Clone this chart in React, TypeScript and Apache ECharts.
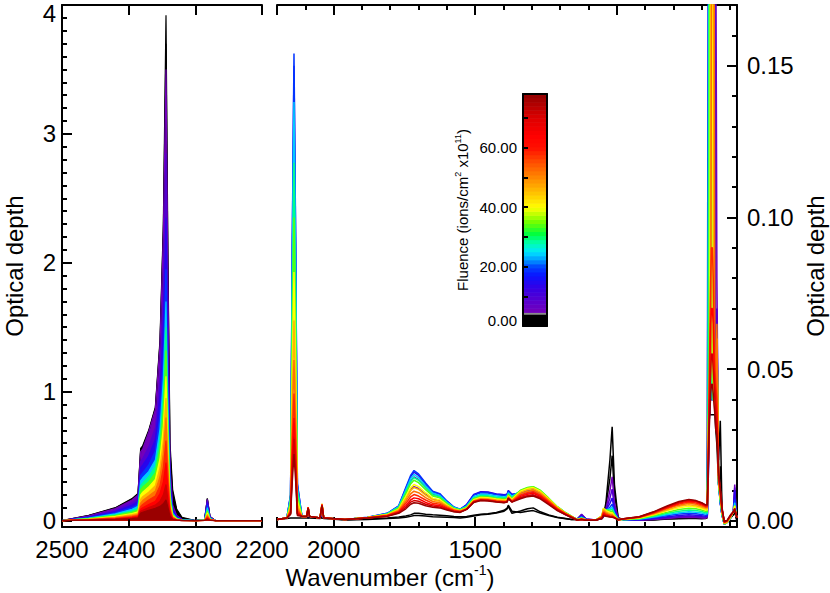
import React, { useEffect, useRef } from 'react';
import * as echarts from 'echarts';

// ---------------- DATA ----------------
// Fluence (x10^11 ions/cm^2) of each plotted spectrum
const FLUENCE = [0, 2, 5, 9, 14, 19, 24, 29, 34, 40, 46, 52, 58, 64, 71, 77];

// Left panel: wavenumbers (cm^-1)
const WN_LEFT = [2500, 2460, 2420, 2395, 2386, 2382, 2379, 2370, 2360, 2353, 2348, 2344, 2341, 2338, 2334, 2328, 2320, 2300, 2286, 2282, 2278, 2270, 2240, 2200];

// Left panel optical depths, one array per spectrum
const OD_LEFT_00 = [0, .04, .1, .17, .21, .56, .58, .7, .88, 1.4, 2.3, 3.92, 2.0, .6, .24, .09, .025, 0, .01, .17, .03, 0, 0, 0];
const OD_LEFT_01 = [0, .039, .097, .167, .206, .55, .57, .69, .87, 1.38, 2.25, 3.7, 1.9, .55, .2, .08, .02, 0, .01, .17, .03, 0, 0, 0];
const OD_LEFT_02 = [0, .037, .093, .16, .198, .535, .555, .685, .86, 1.36, 2.2, 3.5, 1.75, .42, .12, .04, .01, 0, .01, .165, .03, 0, 0, 0];
const OD_LEFT_03 = [0, .03, .08, .14, .17, .46, .48, .57, .72, 1.12, 1.78, 2.85, 1.43, .36, .1, .035, .008, 0, .008, .155, .025, 0, 0, 0];
const OD_LEFT_04 = [0, .027, .07, .12, .15, .41, .43, .5, .63, .98, 1.52, 2.35, 1.18, .3, .085, .03, .006, 0, .007, .14, .022, 0, 0, 0];
const OD_LEFT_05 = [0, .023, .06, .1, .125, .35, .37, .43, .54, .82, 1.27, 1.95, .98, .25, .065, .022, .005, 0, .006, .12, .02, 0, 0, 0];
const OD_LEFT_06 = [0, .02, .052, .088, .11, .31, .33, .38, .47, .71, 1.1, 1.7, .85, .22, .057, .019, .004, 0, .005, .1, .017, 0, 0, 0];
const OD_LEFT_07 = [0, .017, .045, .076, .095, .27, .29, .34, .42, .63, .97, 1.5, .75, .19, .05, .016, .003, 0, .004, .085, .014, 0, 0, 0];
const OD_LEFT_08 = [0, .015, .039, .066, .082, .24, .26, .3, .37, .56, .86, 1.32, .66, .17, .045, .014, .003, 0, .003, .072, .012, 0, 0, 0];
const OD_LEFT_09 = [0, .012, .032, .055, .068, .2, .22, .26, .32, .48, .73, 1.12, .56, .14, .038, .012, .002, 0, .003, .06, .01, 0, 0, 0];
const OD_LEFT_10 = [0, .01, .027, .046, .057, .165, .185, .22, .27, .41, .62, .95, .48, .12, .032, .01, .002, 0, .002, .048, .008, 0, 0, 0];
const OD_LEFT_11 = [0, .008, .022, .038, .047, .135, .155, .19, .23, .34, .52, .8, .4, .1, .027, .008, .001, 0, .002, .038, .007, 0, 0, 0];
const OD_LEFT_12 = [0, .007, .018, .03, .038, .11, .125, .16, .19, .27, .41, .62, .32, .08, .021, .006, .001, 0, .001, .028, .005, 0, 0, 0];
const OD_LEFT_13 = [0, .006, .014, .024, .031, .088, .1, .125, .15, .21, .3, .45, .23, .06, .016, .005, .001, 0, .001, .02, .004, 0, 0, 0];
const OD_LEFT_14 = [0, .005, .011, .019, .025, .072, .08, .1, .12, .15, .2, .28, .15, .045, .012, .004, 0, 0, .001, .013, .003, 0, 0, 0];
const OD_LEFT_15 = [0, .004, .009, .015, .02, .058, .064, .08, .095, .11, .13, .16, .1, .032, .009, .003, 0, 0, .001, .009, .002, 0, 0, 0];

// Left panel y tick label at the top of the axis
const LEFT_Y_TOP_LABEL = '4';

// Right panel: wavenumbers (cm^-1)
const WN_RIGHT = [
  2200, 2165, 2152, 2146, 2140, 2134, 2128, 2112,
  2095, 2090, 2085, 2048, 2041, 2035,
  1960, 1880, 1810, 1770, 1745, 1728, 1716, 1700, 1675, 1650, 1625, 1600, 1575, 1553, 1530, 1505, 1480, 1455, 1425, 1398, 1387, 1383, 1370, 1340, 1315, 1295, 1270, 1240, 1210, 1180, 1160,
  1140, 1124, 1108, 1075, 1052, 1047, 1038, 1024, 1016, 1008, 995,
  970, 920, 870, 820, 780, 745, 720, 700, 686,
  680, 677, 674, 671, 668, 665, 662, 659, 656, 653, 650, 646, 640, 634, 628, 620, 610, 598, 588, 583, 578, 575,
];

// Right panel optical depths, one array per spectrum
const OD_RIGHT_00 = [
  .0005, .0008, .001, .001, .001, .001, .001, .001,
  .001, .001, .001, .0008, .001, .0008,
  .0003, .0005, .0008, .001, .0012, .0015, .0018, .0018, .0016, .0014, .0013, .0012, .0011, .001, .0012, .0016, .002, .0022, .0026, .0032, .004, .0048, .0025, .0033, .004, .0043, .003, .002, .0012, .0008, .0005,
  .0005, .0018, .0005, .0003, .0008, .0015, .006, .02, .031, .012, .001,
  .0003, .0002, .0003, .0006, .0007, .0008, .0008, .0007, .0008,
  .001, .117, .05, .04, .04, .04, .04, .04, .04, .04, .035, .03, .02, .033, .004, 0, 0, .001, .002, .003, .001, 0,
];
const OD_RIGHT_01 = [
  .0005, .001, .0025, .018, .03, .018, .0024, .0015,
  .0015, .001, .0015, .001, .0012, .001,
  .0004, .0007, .001, .0013, .0016, .002, .0025, .0025, .0022, .002, .0019, .0017, .0015, .0014, .0015, .0019, .0022, .0024, .0028, .0035, .0042, .0052, .0032, .0028, .0032, .0034, .0026, .0018, .0011, .0007, .0005,
  .0005, .0019, .0005, .0003, .0008, .0014, .005, .014, .0215, .009, .001,
  .0003, .0002, .0004, .0007, .0009, .001, .001, .0009, .001,
  .0012, .05, .04, .035, .035, .035, .035, .035, .035, .035, .03, .025, .012, .018, .003, 0, 0, .001, .002, .004, .001, 0,
];
const OD_RIGHT_02 = [
  .0005, .001, .0055, .054, .09, .054, .0072, .0015,
  .0015, .0015, .0015, .001, .002, .001,
  .0005, .0011, .002, .0038, .0075, .0103, .0113, .0107, .0088, .0072, .0067, .0051, .0038, .0034, .0045, .0073, .008, .0079, .0074, .0072, .0074, .0086, .0074, .0076, .0082, .0085, .0076, .0056, .0036, .002, .0012,
  .0005, .0022, .0006, .0003, .0008, .0014, .004, .01, .0145, .006, .0008,
  .0003, .0002, .0005, .0008, .0011, .0012, .0011, .001, .0009,
  .0012, .01, .03, .04, .04, .04, .04, .05, .2, .5, .2, .08, .014, .006, .002, -.001, -.0005, .001, .003, .012, .002, .001,
];
const OD_RIGHT_03 = [
  .0005, .001, .0078, .081, .135, .081, .0108, .0015,
  .0015, .002, .0015, .001, .003, .001,
  .0005, .0011, .0023, .0045, .0096, .0131, .0145, .0136, .011, .0087, .0081, .006, .0043, .0037, .0053, .0086, .0095, .0094, .0088, .0086, .0087, .0099, .0087, .0085, .0092, .0095, .0085, .0063, .004, .0023, .0013,
  .0005, .002, .0006, .0003, .0009, .0016, .0035, .0075, .0105, .0045, .0008,
  .0003, .0003, .0007, .0011, .0014, .0016, .0015, .0014, .0012,
  .0014, .011, .03, .04, .04, .04, .05, .2, .5, .2, .05, .07, .013, .006, .002, -.001, -.0005, .001, .003, .011, .002, .001,
];
const OD_RIGHT_04 = [
  .0005, .001, .0085, .09, .15, .09, .012, .0015,
  .0015, .0025, .0015, .001, .0037, .001,
  .0005, .0011, .0025, .0049, .0107, .0145, .0161, .015, .0121, .0095, .0088, .0065, .0045, .0038, .0054, .0087, .0096, .0095, .0089, .0086, .0088, .01, .0088, .0091, .0099, .0102, .0091, .0067, .0043, .0024, .0014,
  .0005, .0017, .0005, .0003, .001, .002, .0035, .0058, .0075, .0035, .0007,
  .0004, .0004, .0008, .0014, .0018, .002, .0019, .0017, .0015,
  .0017, .012, .03, .04, .04, .05, .2, .5, .2, .05, .04, .065, .012, .006, .002, -.001, -.0005, .001, .003, .01, .002, .001,
];
const OD_RIGHT_05 = [
  .0005, .001, .0087, .0924, .154, .0924, .0123, .0015,
  .0015, .003, .0015, .001, .0043, .001,
  .0005, .0012, .0025, .005, .011, .015, .0166, .0155, .0125, .0098, .009, .0066, .0046, .0039, .0052, .0085, .0093, .0092, .0086, .0084, .0086, .0098, .0086, .0094, .0103, .0106, .0094, .007, .0045, .0025, .0015,
  .0005, .0014, .0005, .0003, .0012, .0025, .0035, .0045, .0055, .003, .0006,
  .0004, .0005, .0011, .0018, .0023, .0025, .0024, .0021, .0019,
  .002, .2, .5, .2, .05, .04, .04, .04, .04, .04, .035, .06, .012, .006, .002, -.001, -.0005, .001, .003, .007, .002, .001,
];
const OD_RIGHT_06 = [
  .0005, .001, .0079, .0828, .138, .0828, .011, .0015,
  .0015, .0035, .0015, .001, .0048, .001,
  .0005, .0011, .0024, .0047, .0102, .0139, .0153, .0143, .0116, .0092, .0084, .0062, .0044, .0038, .0049, .008, .0088, .0087, .0082, .0079, .0081, .0093, .0081, .0098, .0107, .011, .0098, .0073, .0046, .0026, .0015,
  .0005, .0012, .0004, .0003, .0014, .003, .0036, .004, .0045, .0025, .0006,
  .0004, .0006, .0013, .0021, .0027, .003, .0029, .0026, .0023,
  .0024, .05, .2, .5, .2, .05, .04, .04, .04, .04, .035, .06, .012, .006, .002, -.001, -.0005, .001, .003, .006, .002, .001,
];
const OD_RIGHT_07 = [
  .0005, .001, .0069, .0708, .118, .0708, .0094, .0015,
  .0015, .004, .0015, .001, .0052, .001,
  .0005, .0011, .0023, .0045, .0095, .0129, .0143, .0134, .0109, .0086, .008, .0059, .0042, .0037, .0047, .0076, .0084, .0083, .0078, .0076, .0077, .0089, .0077, .01, .0109, .0112, .01, .0074, .0047, .0027, .0016,
  .0004, .001, .0004, .0002, .0016, .0036, .0037, .0036, .0038, .0022, .0005,
  .0005, .0007, .0015, .0025, .0032, .0036, .0034, .0031, .0027,
  .0028, .04, .18, .5, .22, .05, .04, .04, .04, .04, .035, .06, .012, .007, .002, -.001, -.0005, .001, .003, .005, .002, .001,
];
const OD_RIGHT_08 = [
  .0005, .001, .006, .06, .1, .06, .008, .0015,
  .0015, .0042, .0015, .001, .0055, .001,
  .0005, .0011, .0022, .0043, .0089, .0122, .0134, .0126, .0103, .0082, .0076, .0057, .0041, .0036, .0045, .0073, .008, .0079, .0074, .0072, .0074, .0086, .0074, .0101, .011, .0113, .0101, .0075, .0047, .0027, .0016,
  .0004, .0009, .0004, .0002, .0017, .004, .0036, .0032, .0032, .002, .0005,
  .0005, .0008, .0018, .0029, .0038, .0042, .004, .0036, .0032,
  .0032, .03, .05, .2, .5, .2, .05, .04, .04, .04, .035, .06, .012, .007, .0025, -.001, -.0005, .0012, .003, .005, .002, .001,
];
const OD_RIGHT_09 = [
  .0005, .001, .0051, .0492, .082, .0492, .0066, .0015,
  .0015, .0044, .0015, .001, .0056, .001,
  .0005, .0011, .0021, .0039, .008, .0109, .012, .0113, .0093, .0075, .007, .0053, .0039, .0034, .0043, .007, .0077, .0076, .0072, .0069, .0071, .0083, .0071, .0098, .0107, .011, .0098, .0073, .0046, .0026, .0015,
  .0004, .0008, .0003, .0002, .0017, .0042, .0034, .0028, .0027, .0017, .0004,
  .0006, .001, .002, .0034, .0043, .0048, .0046, .0041, .0036,
  .0036, .025, .04, .05, .2, .5, .2, .05, .04, .04, .035, .06, .013, .008, .003, -.0008, -.0005, .0012, .003, .005, .002, .001,
];
const OD_RIGHT_10 = [
  .0005, .001, .0043, .0396, .066, .0396, .0053, .0015,
  .0015, .0045, .0015, .001, .0056, .001,
  .0005, .0011, .002, .0037, .0073, .01, .011, .0104, .0085, .007, .0065, .005, .0038, .0033, .0041, .0067, .0074, .0073, .0069, .0067, .0068, .008, .0068, .0094, .0103, .0106, .0094, .007, .0045, .0025, .0015,
  .0004, .0007, .0003, .0002, .0016, .0038, .003, .0024, .0022, .0015, .0004,
  .0006, .0011, .0022, .0037, .0048, .0053, .005, .0045, .004,
  .004, .022, .04, .04, .05, .2, .5, .2, .05, .04, .035, .06, .013, .008, .003, -.0008, -.0003, .0014, .003, .004, .002, .001,
];
const OD_RIGHT_11 = [
  .0005, .001, .0037, .0318, .053, .0318, .0042, .0015,
  .0015, .0045, .0015, .001, .0055, .001,
  .0005, .0011, .0019, .0034, .0065, .0089, .0098, .0093, .0077, .0064, .006, .0047, .0036, .0032, .004, .0066, .0072, .0071, .0067, .0065, .0066, .0078, .0066, .009, .0098, .0101, .009, .0067, .0042, .0024, .0014,
  .0003, .0006, .0003, .0002, .0014, .0033, .0026, .002, .0019, .0013, .0004,
  .0007, .0012, .0024, .0041, .0052, .0058, .0055, .0049, .0044,
  .0044, .02, .04, .04, .05, .2, .5, .5, .2, .05, .04, .065, .014, .009, .0035, -.0006, -.0003, .0015, .003, .004, .002, .001,
];
const OD_RIGHT_12 = [
  .0005, .001, .0031, .0252, .042, .0252, .0034, .0015,
  .0015, .0045, .0015, .001, .0054, .001,
  .0005, .001, .0018, .0031, .0058, .0079, .0087, .0082, .0069, .0058, .0055, .0044, .0034, .0031, .0039, .0064, .007, .0069, .0065, .0063, .0064, .0076, .0064, .0085, .0093, .0096, .0085, .0063, .004, .0023, .0013,
  .0003, .0006, .0003, .0002, .0012, .0028, .0022, .0017, .0016, .0012, .0004,
  .0007, .0012, .0026, .0043, .0056, .0062, .0059, .0053, .0047,
  .0047, .015, .04, .06, .08, .09, .09, .08, .06, .05, .045, .04, .014, .009, .0035, -.0005, 0, .0016, .003, .004, .002, .001,
];
const OD_RIGHT_13 = [
  .0005, .001, .0027, .0204, .034, .0204, .0027, .0015,
  .0015, .0044, .0015, .001, .0053, .001,
  .0005, .001, .0017, .0029, .0051, .0069, .0076, .0073, .0061, .0053, .005, .0041, .0032, .003, .0039, .0063, .0069, .0068, .0064, .0062, .0063, .0075, .0063, .0081, .0088, .0091, .0081, .006, .0038, .0022, .0013,
  .0003, .0005, .0002, .0002, .001, .0024, .0019, .0015, .0014, .0011, .0004,
  .0007, .0013, .0028, .0046, .0059, .0066, .0063, .0056, .005,
  .005, .015, .035, .05, .065, .07, .07, .065, .05, .045, .04, .035, .015, .01, .004, -.0004, 0, .0017, .003, .004, .002, .001,
];
const OD_RIGHT_14 = [
  .0005, .001, .0024, .0162, .027, .0162, .0022, .0015,
  .0015, .0043, .0015, .001, .0052, .001,
  .0005, .001, .0016, .0027, .0045, .0062, .0067, .0065, .0055, .0049, .0046, .0038, .0031, .0029, .0038, .0062, .0068, .0067, .0063, .0061, .0063, .0075, .0063, .0077, .0083, .0086, .0077, .0057, .0036, .0021, .0012,
  .0003, .0005, .0002, .0002, .0009, .002, .0017, .0014, .0013, .001, .0004,
  .0008, .0014, .0029, .0048, .0062, .0069, .0066, .0059, .0052,
  .0052, .015, .03, .04, .05, .055, .055, .05, .045, .04, .035, .03, .015, .01, .004, -.0003, 0, .0018, .003, .004, .002, .001,
];
const OD_RIGHT_15 = [
  .0005, .001, .0021, .0132, .022, .0132, .0018, .0015,
  .0015, .0042, .0015, .001, .005, .001,
  .0005, .001, .0015, .0025, .004, .0055, .006, .0058, .005, .0045, .0043, .0036, .003, .0028, .0038, .0061, .0067, .0066, .0062, .006, .0062, .0074, .0062, .0073, .008, .0082, .0073, .0054, .0034, .002, .0011,
  .0003, .0005, .0002, .0002, .0008, .0017, .0015, .0013, .0012, .001, .0004,
  .0008, .0014, .003, .005, .0064, .0071, .0067, .006, .0053,
  .0053, .015, .028, .035, .042, .045, .045, .042, .038, .035, .03, .028, .016, .011, .0045, -.0002, .0002, .002, .003, .004, .002, .001,
];

const OD_LEFT = [OD_LEFT_00, OD_LEFT_01, OD_LEFT_02, OD_LEFT_03, OD_LEFT_04, OD_LEFT_05, OD_LEFT_06, OD_LEFT_07, OD_LEFT_08, OD_LEFT_09, OD_LEFT_10, OD_LEFT_11, OD_LEFT_12, OD_LEFT_13, OD_LEFT_14, OD_LEFT_15];
const OD_RIGHT = [OD_RIGHT_00, OD_RIGHT_01, OD_RIGHT_02, OD_RIGHT_03, OD_RIGHT_04, OD_RIGHT_05, OD_RIGHT_06, OD_RIGHT_07, OD_RIGHT_08, OD_RIGHT_09, OD_RIGHT_10, OD_RIGHT_11, OD_RIGHT_12, OD_RIGHT_13, OD_RIGHT_14, OD_RIGHT_15];

// Colour bar range
const CB_MIN = 0;
const CB_MAX = 78;
const CB_BLACK_TOP = 4.0;
const CB_GRAY_TOP = 4.6;

// ---------------- STYLE ----------------
const FONT = "'Liberation Sans', Arial, Helvetica, sans-serif";
const COLOR_STOPS: [number, string][] = [
  [0, '#000000'], [4.0, '#000000'], [4.01, '#7a00b4'], [8, '#5c00cc'], [13, '#3300e6'], [17, '#0a14ff'],
  [20, '#0044ff'], [22, '#0090ff'], [25, '#00e6ff'], [28, '#00ffb0'], [31, '#00ff40'], [35, '#70ff00'],
  [38, '#c8ff00'], [40, '#ffff00'], [44, '#ffcc00'], [50, '#ff8800'], [55, '#ff5000'], [60, '#ff1000'],
  [64, '#ff0000'], [70, '#dd0000'], [78, '#900000'],
];

function hexToRgb(h: string) {
  return [parseInt(h.slice(1, 3), 16), parseInt(h.slice(3, 5), 16), parseInt(h.slice(5, 7), 16)];
}
function colorFor(f: number): string {
  if (f <= COLOR_STOPS[0][0]) return COLOR_STOPS[0][1];
  for (let i = 1; i < COLOR_STOPS.length; i++) {
    const [f1, c1] = COLOR_STOPS[i];
    if (f <= f1) {
      const [f0, c0] = COLOR_STOPS[i - 1];
      const t = (f - f0) / (f1 - f0);
      const a = hexToRgb(c0), b = hexToRgb(c1);
      const r = a.map((v, k) => Math.round(v + (b[k] - v) * t));
      return `rgb(${r[0]},${r[1]},${r[2]})`;
    }
  }
  return COLOR_STOPS[COLOR_STOPS.length - 1][1];
}

const AXIS_LINE = { show: true, onZero: false, lineStyle: { color: '#000', width: 2 } };
const TICK = (len: number) => ({ show: true, inside: true, length: len, lineStyle: { color: '#000', width: 2 } });
const MINOR = (n: number) => ({ show: true, splitNumber: n, length: 5, lineStyle: { color: '#000', width: 2 } });
const LABEL = { color: '#000', fontSize: 24, fontFamily: FONT };

export default function App() {
  const ref = useRef<HTMLDivElement>(null);

  useEffect(() => {
    if (!ref.current) return;
    const chart = echarts.init(ref.current, undefined, { renderer: 'svg' });

    const leftSeries = OD_LEFT.map((arr, i) => {
      const c = colorFor(FLUENCE[i]);
      return {
        type: 'line', xAxisIndex: 0, yAxisIndex: 0, symbol: 'none', showSymbol: false,
        data: WN_LEFT.map((w, k) => [w, arr[k]]),
        lineStyle: { color: c, width: 1.2 }, itemStyle: { color: c },
        areaStyle: { color: c, opacity: 1 }, clip: true, silent: true,
      };
    });
    const rightSeries = OD_RIGHT.map((arr, i) => {
      const c = colorFor(FLUENCE[i]);
      return {
        type: 'line', xAxisIndex: 2, yAxisIndex: 1, symbol: 'none', showSymbol: false,
        data: WN_RIGHT.map((w, k) => [w, arr[k]]),
        lineStyle: { color: c, width: 1.5 }, itemStyle: { color: c }, clip: true, silent: true,
      };
    });

    const bands: any[] = [
      { value: [CB_MIN, CB_BLACK_TOP], itemStyle: { color: '#000000' } },
      { value: [CB_BLACK_TOP, CB_GRAY_TOP], itemStyle: { color: '#8c8c8c' } },
    ];
    const nb = 54;
    const step = (CB_MAX - CB_GRAY_TOP) / nb;
    for (let i = 0; i < nb; i++) {
      const lo = CB_GRAY_TOP + i * step;
      const hi = lo + step;
      bands.push({ value: [lo, hi], itemStyle: { color: colorFor((lo + hi) / 2) } });
    }

    const option: any = {
      animation: false,
      backgroundColor: '#ffffff',
      grid: [
        { left: 62, top: 5, width: 200, height: 522, outerBoundsMode: 'none' },
        { left: 277, top: 5, width: 460, height: 522, outerBoundsMode: 'none' },
        { left: 523, top: 94, width: 24, height: 232, outerBoundsMode: 'none' },
      ],
      xAxis: [
        { type: 'value', gridIndex: 0, position: 'bottom', min: 2200, max: 2500, interval: 100, inverse: true, z: 3,
          axisLine: AXIS_LINE, axisTick: TICK(10), axisLabel: { ...LABEL, margin: 10, formatter: (v: number) => String(v) }, splitLine: { show: false } },
        { type: 'value', gridIndex: 0, position: 'top', min: 2200, max: 2500, interval: 100, inverse: true, z: 3,
          axisLine: AXIS_LINE, axisTick: TICK(10), axisLabel: { show: false }, splitLine: { show: false } },
        { type: 'value', gridIndex: 1, position: 'bottom', min: 575, max: 2200, splitNumber: 3, inverse: true, z: 3,
          axisLine: AXIS_LINE, axisTick: TICK(10), minorTick: MINOR(5),
          axisLabel: { ...LABEL, margin: 10, showMinLabel: false, showMaxLabel: false, formatter: (v: number) => String(v) }, splitLine: { show: false } },
        { type: 'value', gridIndex: 1, position: 'top', min: 575, max: 2200, splitNumber: 3, inverse: true, z: 3,
          axisLine: AXIS_LINE, axisTick: TICK(10), minorTick: MINOR(5), axisLabel: { show: false }, splitLine: { show: false } },
        { type: 'value', gridIndex: 2, position: 'bottom', min: 0, max: 1, z: 5,
          axisLine: AXIS_LINE, axisTick: { show: false }, axisLabel: { show: false }, splitLine: { show: false } },
        { type: 'value', gridIndex: 2, position: 'top', min: 0, max: 1, z: 5,
          axisLine: AXIS_LINE, axisTick: { show: false }, axisLabel: { show: false }, splitLine: { show: false } },
      ],
      yAxis: [
        { type: 'value', gridIndex: 0, position: 'left', min: -0.05, max: 4, splitNumber: 4, z: 3,
          axisLine: AXIS_LINE, axisTick: TICK(10), minorTick: MINOR(10),
          axisLabel: { ...LABEL, margin: 6, showMinLabel: false,
            formatter: (v: number) => (Math.abs(v) < 1e-9 ? '0' : v === 4 ? '' : String(v)) },
          splitLine: { show: false },
          name: 'Optical depth', nameLocation: 'middle', nameGap: 36, nameMoveOverlap: false,
          nameTextStyle: { ...LABEL } },
        { type: 'value', gridIndex: 1, position: 'right', min: -0.002, max: 0.17, splitNumber: 3, z: 3,
          axisLine: AXIS_LINE, axisTick: TICK(10), minorTick: MINOR(5),
          axisLabel: { ...LABEL, margin: 10, showMinLabel: false, showMaxLabel: false, formatter: (v: number) => Math.abs(v).toFixed(2) },
          splitLine: { show: false },
          name: 'Optical depth', nameLocation: 'middle', nameGap: 66, nameMoveOverlap: false,
          nameTextStyle: { ...LABEL } },
        { type: 'value', gridIndex: 2, position: 'left', min: CB_MIN, max: CB_MAX, interval: 10, z: 5,
          axisLine: AXIS_LINE, axisTick: { show: true, inside: true, length: 5, lineStyle: { color: '#000', width: 2 } },
          axisLabel: { color: '#000', fontSize: 15, fontFamily: FONT, margin: 6,
            formatter: (v: number) => (v === 0 ? '{b|0.00}' : v % 20 === 0 ? v.toFixed(2) : ''),
            rich: { b: { fontSize: 15, fontFamily: FONT, color: '#000', padding: [0, 0, 12, 0] } } },
          splitLine: { show: false },
          name: '{n|Fluence (ions/cm}{s|2}{n| x10}{s|11}{n|)}', nameLocation: 'middle', nameGap: 52, nameMoveOverlap: false,
          nameTextStyle: { color: '#000', fontSize: 15, fontFamily: FONT,
            rich: { n: { fontSize: 15, fontFamily: FONT, color: '#000' },
                    s: { fontSize: 9, fontFamily: FONT, color: '#000', padding: [0, 0, 9, 0] } } } },
        { type: 'value', gridIndex: 2, position: 'right', min: CB_MIN, max: CB_MAX, z: 5,
          axisLine: AXIS_LINE, axisTick: { show: false }, axisLabel: { show: false }, splitLine: { show: false } },
      ],
      series: [
        ...leftSeries,
        ...rightSeries,
        {
          type: 'custom', xAxisIndex: 4, yAxisIndex: 2, silent: true, z: 2,
          data: bands,
          renderItem: (params: any, api: any) => {
            const a = api.coord([0, api.value(0)]);
            const b = api.coord([1, api.value(1)]);
            return {
              type: 'rect',
              shape: { x: a[0], y: b[1], width: b[0] - a[0], height: a[1] - b[1] + 0.6 },
              style: { fill: api.visual('color') },
            };
          },
        },
      ],
      graphic: [
        {
          type: 'text', x: 390, y: 577,
          style: {
            text: '{n|Wavenumber (cm}{s|-1}{n|)}',
            align: 'center', verticalAlign: 'middle',
            rich: { n: { fontSize: 24, fontFamily: FONT, fill: '#000' }, s: { fontSize: 14, fontFamily: FONT, fill: '#000', padding: [0, 0, 14, 0] } },
          },
        },
        {
          type: 'text', x: 56, y: 4,
          style: {
            text: LEFT_Y_TOP_LABEL, fontSize: 24, fontFamily: FONT, fill: '#000',
            align: 'right', verticalAlign: 'top', lineHeight: 18,
          },
        },
      ],
    };

    chart.setOption(option);
    return () => chart.dispose();
  }, []);

  return <div ref={ref} style={{ position: 'fixed', left: 0, top: 0, width: 830, height: 593, background: '#fff' }} />;
}
